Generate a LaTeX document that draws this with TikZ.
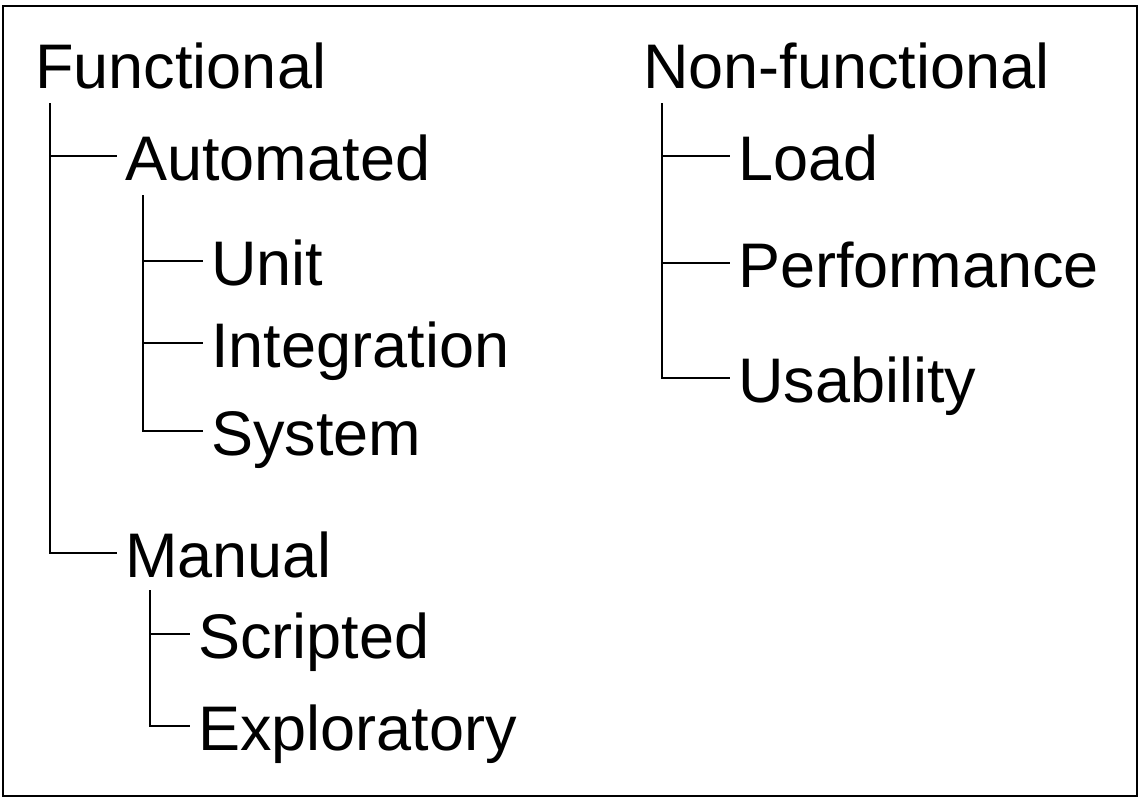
\documentclass[tikz,border=0pt]{standalone}
\usepackage{fontspec}
\setmainfont{Liberation Sans}
\begin{document}
\begin{tikzpicture}[
  x=0.5pt,y=-0.5pt,
  item/.style={anchor=base west,inner xsep=4pt,inner ysep=0pt,text height=24pt,text depth=0pt,font=\fontsize{31.5pt}{36pt}\selectfont},
  stem/.style={black, line width=0.8pt},
  frame/.style={draw=black, line width=1.2pt}
]
\useasboundingbox (0,0) rectangle (1140,800);
\draw[frame] (3,6) rectangle (1137,796);

\def\xA{117}
\def\xB{203}
\def\xC{190}
\def\xD{730}

% left tree
\node[item] (fun) at (27,88) {Functional};
\coordinate (funstem) at (50,103);
\coordinate (autstem) at (143,195);
\coordinate (manstem) at (150,590);

\node[item] (aut) at (\xA,180) {Automated};
\node[item] (man) at (\xA,577) {Manual};
\draw[stem] (funstem) |- (aut.west);
\draw[stem] (funstem) |- (man.west);

\foreach \n/\y/\t in {unit/285/Unit,integ/367/Integration,sys/455/System}{
  \node[item] (\n) at (\xB,\y) {\t};
  \draw[stem] (autstem) |- (\n.west);
}

\foreach \n/\y/\t in {scr/658/Scripted,expl/750/Exploratory}{
  \node[item] (\n) at (\xC,\y) {\t};
  \draw[stem] (manstem) |- (\n.west);
}

% right tree
\node[item] (nonf) at (635,88) {Non-functional};
\coordinate (nonfstem) at (662,103);

\foreach \n/\y/\t in {load/180/Load,perf/287/Performance,usab/402/Usability}{
  \node[item] (\n) at (\xD,\y) {\t};
  \draw[stem] (nonfstem) |- (\n.west);
}

\end{tikzpicture}
\end{document}
